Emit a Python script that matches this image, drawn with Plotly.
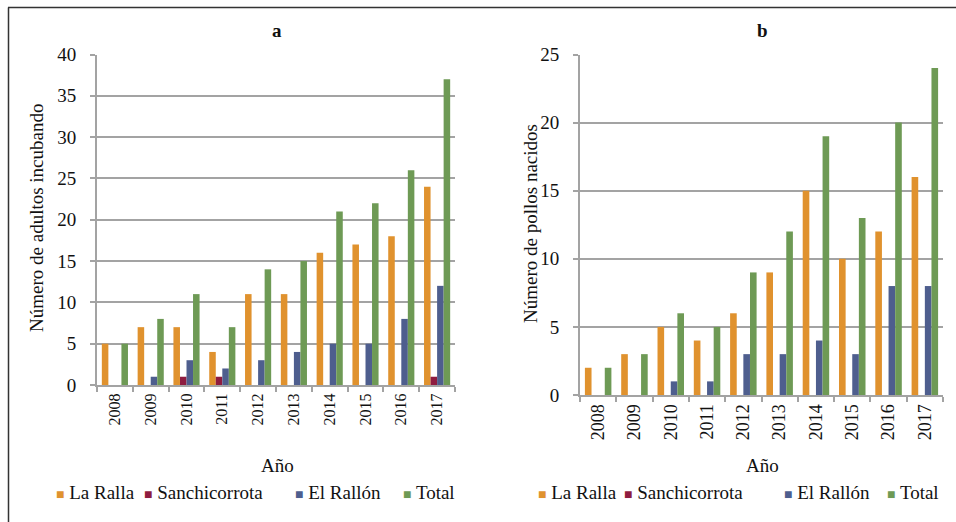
import plotly.graph_objects as go

years = ["2008", "2009", "2010", "2011", "2012", "2013", "2014", "2015", "2016", "2017"]
series_names = ["La Ralla", "Sanchicorrota", "El Rallón", "Total"]

# Panel a: Número de adultos incubando
a_la_ralla = [5, 7, 7, 4, 11, 11, 16, 17, 18, 24]
a_sanchicorrota = [0, 0, 1, 1, 0, 0, 0, 0, 0, 1]
a_el_rallon = [0, 1, 3, 2, 3, 4, 5, 5, 8, 12]
a_total = [5, 8, 11, 7, 14, 15, 21, 22, 26, 37]

# Panel b: Número de pollos nacidos
b_la_ralla = [2, 3, 5, 4, 6, 9, 15, 10, 12, 16]
b_sanchicorrota = [0, 0, 0, 0, 0, 0, 0, 0, 0, 0]
b_el_rallon = [0, 0, 1, 1, 3, 3, 4, 3, 8, 8]
b_total = [2, 3, 6, 5, 9, 12, 19, 13, 20, 24]

colors = ["#E0922E", "#8E1C40", "#4E5E8E", "#6E9A55"]
FONT = "Liberation Serif, 'Times New Roman', Times, serif"
GRID = "#A3A3A3"
W, H = 956, 522

fig = go.Figure()

a_vals = [a_la_ralla, a_sanchicorrota, a_el_rallon, a_total]
b_vals = [b_la_ralla, b_sanchicorrota, b_el_rallon, b_total]

for name, vals, col in zip(series_names, a_vals, colors):
    fig.add_trace(go.Bar(x=years, y=vals, name=name, marker=dict(color=col, line=dict(width=0)),
                         xaxis="x", yaxis="y", offsetgroup=name + "a", showlegend=False))
for name, vals, col in zip(series_names, b_vals, colors):
    fig.add_trace(go.Bar(x=years, y=vals, name=name, marker=dict(color=col, line=dict(width=0)),
                         xaxis="x2", yaxis="y2", offsetgroup=name + "b", showlegend=False))

def px_x(p):
    return p / W

def px_y(p):
    return 1 - p / H

common_x = dict(type="category", tickson="boundaries", ticks="outside", ticklen=5, tickcolor=GRID,
                tickwidth=2, showline=True, linecolor=GRID, linewidth=2, showgrid=False,
                tickangle=-90, zeroline=False, automargin=False)
common_y = dict(ticks="outside", ticklen=5, tickcolor=GRID, tickwidth=2, showline=True,
                linecolor=GRID, linewidth=2, showgrid=True, gridcolor=GRID, gridwidth=2,
                zeroline=False, dtick=5, tickfont=dict(family=FONT, size=19, color="#111"),
                ticklabelstandoff=10, automargin=False)

fig.update_layout(
    width=W, height=H,
    margin=dict(l=0, r=0, t=0, b=0),
    paper_bgcolor="white", plot_bgcolor="white",
    barmode="group", bargap=0.27, bargroupgap=0,
    font=dict(family=FONT, color="#111"),
    xaxis=dict(domain=[px_x(97), px_x(455)], anchor="y",
               tickfont=dict(family=FONT, size=16, color="#111"), **common_x),
    yaxis=dict(domain=[px_y(385), px_y(54.5)], anchor="x", range=[0, 40], **common_y),
    xaxis2=dict(domain=[px_x(580), px_x(943)], anchor="y2",
                tickfont=dict(family=FONT, size=18, color="#111"), **common_x),
    yaxis2=dict(domain=[px_y(395), px_y(54.5)], anchor="x2", range=[0, 25], **common_y),
    showlegend=False,
)

annots = [
    dict(text="<b>a</b>", x=277, y=30, angle=0),
    dict(text="<b>b</b>", x=762, y=30, angle=0),
    dict(text="Número de adultos incubando", x=37, y=218, angle=-90),
    dict(text="Número de pollos nacidos", x=530, y=224, angle=-90),
    dict(text="Año", x=277, y=465, angle=0),
    dict(text="Año", x=762, y=465, angle=0),
]
for an in annots:
    fig.add_annotation(text=an["text"], x=px_x(an["x"]), y=px_y(an["y"]), xref="paper", yref="paper",
                       xanchor="center", yanchor="middle", showarrow=False, textangle=an["angle"],
                       font=dict(family=FONT, size=19, color="#111"))

# legends drawn as text rows: one per panel
legend_a_x = [54, 142, 293, 401]
legend_b_x = [536, 622, 782, 885]
for xs in (legend_a_x, legend_b_x):
    for name, col, xx in zip(series_names, colors, xs):
        fig.add_annotation(
            text=f"<span style='color:{col};font-size:14px'>■</span> {name}",
            x=px_x(xx), y=px_y(492), xref="paper", yref="paper",
            xanchor="left", yanchor="middle", showarrow=False,
            font=dict(family=FONT, size=19, color="#111"))

# outer frame (top and left edges visible)
fig.add_shape(type="line", xref="paper", yref="paper", x0=px_x(8), x1=1.0, y0=px_y(7.5), y1=px_y(7.5),
              line=dict(color="#333", width=1.5))
fig.add_shape(type="line", xref="paper", yref="paper", x0=px_x(8.5), x1=px_x(8.5), y0=px_y(7.5), y1=0.0,
              line=dict(color="#333", width=1.5))

fig.write_html("out.html", config={"displayModeBar": False, "staticPlot": True},
               post_script=("document.documentElement.style.overflow='hidden';"
                            "document.body.style.margin='0';"
                            "document.body.style.overflow='hidden';"))
